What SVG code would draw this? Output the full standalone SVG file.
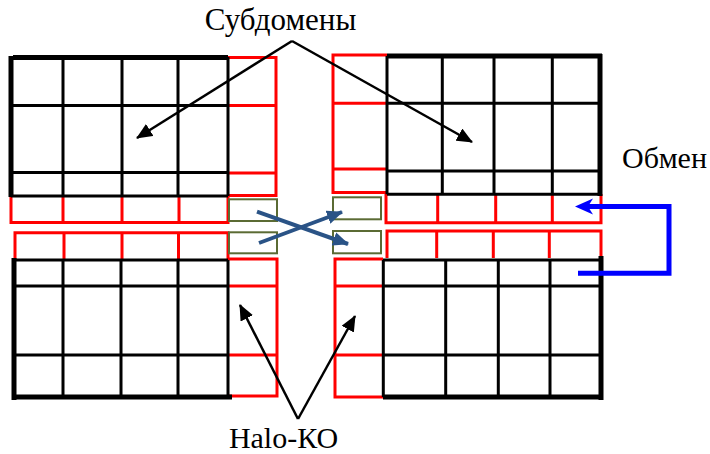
<svg xmlns="http://www.w3.org/2000/svg" width="710" height="454" viewBox="0 0 710 454">
<style>
.k{stroke:#000;stroke-width:3;fill:none}
.K{stroke:#000;stroke-width:5;fill:none}
.r{stroke:#ff0000;stroke-width:3;fill:none}
.g{stroke:#5b6b34;stroke-width:2;fill:#fff}
.t{font-family:"Liberation Serif","Times New Roman",serif;font-size:30px;fill:#000}
.ba{stroke:#000;stroke-width:2.5;fill:none}
.xa{stroke:#2a5386;stroke-width:4;fill:none}
</style>
<defs>
<marker id="mb" markerWidth="16" markerHeight="14" refX="15" refY="7" orient="auto" markerUnits="userSpaceOnUse">
<path d="M0,0 L16,7 L0,14 z" fill="#000"/>
</marker>
<marker id="mx" markerWidth="16" markerHeight="14" refX="15" refY="7" orient="auto" markerUnits="userSpaceOnUse">
<path d="M0,0 L16,7 L0,14 z" fill="#2a5386"/>
</marker>
</defs>
<rect width="710" height="454" fill="#fff"/>

<g id="halo-tl">
<path class="r" d="M228,57.5 H276 V195.5 H228 M228,105.5 H276 M228,173 H276"/>
<path class="r" d="M11,196 V222.5 H228 V196 M63,196 V222.5 M122,196 V222.5 M179,196 V222.5"/>
</g>
<g id="subdomain-tl">
<path class="k" d="M11,105.5 H228 M11,172.5 H228 M11,196 H228 M63,57 V196 M122,57 V196 M178,57 V196 M228,57 V196"/>
<path class="K" d="M13,57.5 H228 M11,56 V197"/>
</g>

<g id="halo-bl">
<path class="r" d="M15,259 V232.7 H228 V259 M64,232.7 V259 M122,232.7 V259 M178.5,232.7 V259"/>
<path class="r" d="M228,259 H277 V396 H228 M228,286 H277 M228,355 H277"/>
</g>
<g id="subdomain-bl">
<path class="k" d="M13,260 H228 M14,286 H228 M14,355 H228 M63,260 V397 M121,260 V397 M178,260 V397 M228,260 V397"/>
<path class="K" d="M14,258 V400 M14,397 H232"/>
</g>

<g id="halo-tr">
<path class="r" d="M387,55 H333 V192.5 H387 M333,103.3 H387 M333,169 H387"/>
<path class="r" d="M386,194 V222.7 H601 V194 M437.7,194 V222.7 M495.7,194 V222.7 M552.3,194 V222.7"/>
</g>
<g id="subdomain-tr">
<path class="k" d="M387,56 V194.3 M387,103.3 H600 M387,171 H600 M387,194.3 H600 M442.3,56 V194.3 M494,56 V194.3 M552.3,56 V194.3"/>
<path class="K" d="M387,56 H602 M600,54 V196"/>
</g>

<g id="halo-br">
<path class="r" d="M387,258 V231 H601 V258 M436.7,231 V258 M493.3,231 V258 M549.3,231 V258"/>
<path class="r" d="M383,259 H335 V397 H383 M335,286 H383 M335,355 H383"/>
</g>
<g id="subdomain-br">
<path class="k" d="M383,260 H600 M383.3,260 V397 M383,286 H600 M383,355 H600 M445.7,260 V397 M498.3,260 V397 M550,260 V397"/>
<path class="K" d="M601,256 V400 M383,397 H603"/>
</g>

<g id="ghost-cells">
<rect class="g" x="229" y="199.3" width="48" height="21.7"/>
<rect class="g" x="229" y="232.3" width="48" height="21"/>
<rect class="g" x="333" y="197.3" width="48" height="22"/>
<rect class="g" x="333" y="231" width="48" height="22.3"/>
</g>

<g id="connectors">
<path class="xa" d="M257,211.7 L348,244" marker-end="url(#mx)"/>
<path class="xa" d="M259,243 L342,212" marker-end="url(#mx)"/>
<path class="ba" d="M292,41 L137,138" marker-end="url(#mb)"/>
<path class="ba" d="M292,41 L472,142" marker-end="url(#mb)"/>
<path class="ba" d="M298,419 L240,305" marker-end="url(#mb)"/>
<path class="ba" d="M298,419 L355,316" marker-end="url(#mb)"/>
<path d="M578,273.3 H669 V206.5 H588" stroke="#0000ff" stroke-width="5" fill="none"/>
<polygon points="575,206.5 593,198.5 588,206.5 593,214.5" fill="#0000ff"/>
</g>

<g id="labels">
<text class="t" x="280.5" y="30" text-anchor="middle" style="font-size:31px">Субдомены</text>
<text class="t" x="283.5" y="448" text-anchor="middle">Halo-КО</text>
<text class="t" x="622" y="168">Обмен</text>
</g>
</svg>
